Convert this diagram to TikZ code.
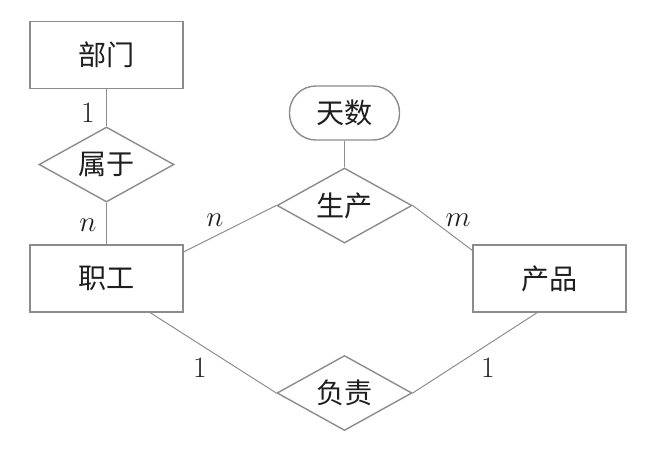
\documentclass[tikz,border=0pt]{standalone}
\usepackage{fontspec}
\usepackage{tikz}
\usetikzlibrary{shapes.geometric}
\newfontfamily\cjk{Noto Sans CJK SC}
\definecolor{linegray}{HTML}{8C8C8C}
\definecolor{inkgray}{HTML}{1E1E1E}

\begin{document}
\begin{tikzpicture}[x=0.025cm, y=-0.025cm,
  entity/.style={draw=linegray, line width=1pt, minimum width=3.825cm, minimum height=1.675cm,
    inner sep=0pt, font=\cjk\fontsize{20}{24}\selectfont, text=inkgray},
  relation/.style={diamond, draw=linegray, line width=1pt, shape aspect=1.8,
    minimum width=3.375cm, minimum height=1.875cm, inner sep=0pt,
    font=\cjk\fontsize{20}{24}\selectfont, text=inkgray},
  attrib/.style={draw=linegray, line width=1pt, rounded corners=0.66cm, minimum width=2.75cm,
    minimum height=1.35cm, inner sep=0pt, font=\cjk\fontsize{20}{24}\selectfont, text=inkgray},
  link/.style={draw=linegray, line width=0.7pt},
  card/.style={font=\fontsize{21}{24}\selectfont, text=inkgray}]
  \useasboundingbox (0,0) rectangle (654,450);
  \node[entity] (bm) at (106.5,55) {部门};
  \node[relation] (sy) at (106.5,164.5) {属于};
  \node[entity] (zg) at (106.5,278.5) {职工};
  \node[attrib] (ts) at (344.5,113) {天数};
  \node[relation] (sc) at (344.5,205.5) {生产};
  \node[entity] (cp) at (549.5,278.5) {产品};
  \node[relation] (fz) at (344.5,393) {负责};
  \draw[link] (bm) -- (sy);
  \draw[link] (sy) -- (zg);
  \draw[link] (ts) -- (sc);
  \draw[link] (sc.west) -- (zg.19);
  \draw[link] (sc.east) -- (cp.160);
  \draw[link] (zg.-38) -- (fz.west);
  \draw[link] (cp.-110) -- (fz.east);
  \node[card] (l1) at (88,113) {1};
  \node[card] (l2) at (88,225) {$n$};
  \node[card] (l3) at (215,220) {$n$};
  \node[card] (l4) at (458,220) {$m$};
  \node[card] (l5) at (200,368) {1};
  \node[card] (l6) at (488,368) {1};
\end{tikzpicture}
\end{document}
